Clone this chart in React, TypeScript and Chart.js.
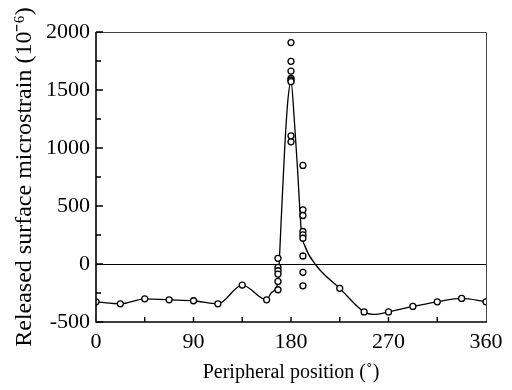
import React, { useEffect, useRef } from "react";
import { Chart, registerables } from "chart.js";

Chart.register(...registerables);

// Measured points: peripheral position (deg) and released microstrain
const pointDeg = [
  0, 22.5, 45, 67.5, 90, 112.5, 135, 157.5,
  168, 168, 168, 168, 168, 168,
  180, 180, 180, 180, 180, 180, 180, 180,
  191, 191, 191, 191, 191, 191, 191, 191, 191,
  225, 247.5, 270, 292.5, 315, 337.5, 360,
];
const pointStrain = [
  -326, -343, -300, -309, -317, -343, -182, -309,
  49, -29, -58, -87, -150, -222,
  1909, 1747, 1663, 1600, 1586, 1572, 1105, 1053,
  850, 467, 418, 280, 251, 222, 69, -72, -188,
  -210, -413, -413, -366, -326, -297, -326,
];

// Fitted curve
const curveDeg = [
  0, 22.5, 45, 67.5, 90, 112.5, 135, 157.5, 162, 168, 169, 171, 174, 177, 180,
  183, 186, 189.6, 192.7, 203.5, 225, 247.5, 256, 270, 292.5, 315, 337.5, 360,
];
const curveStrain = [
  -326, -343, -300, -309, -317, -343, -182, -309, -245, -158, -15, 389, 966, 1400, 1575,
  1250, 822, 274, 158, -15, -210, -413, -435, -413, -366, -326, -297, -326,
];

const xTicks = [0, 90, 180, 270, 360];
const yTicks = [-500, 0, 500, 1000, 1500, 2000];

const FONT = "'Liberation Serif', 'Times New Roman', serif";

const framePlugin = {
  id: "frame",
  afterDatasetsDraw(chart: any) {
    const { ctx, chartArea: a, scales } = chart;
    const xs = scales.x;
    const ys = scales.y;
    ctx.save();
    ctx.strokeStyle = "#444";
    ctx.lineWidth = 1;
    ctx.beginPath();
    ctx.moveTo(a.left, a.top + 0.5);
    ctx.lineTo(a.right + 0.5, a.top + 0.5);
    ctx.lineTo(a.right + 0.5, a.bottom);
    ctx.stroke();
    ctx.strokeStyle = "#000";
    ctx.lineWidth = 1.6;
    ctx.beginPath();
    ctx.moveTo(a.left, a.top);
    ctx.lineTo(a.left, a.bottom);
    ctx.lineTo(a.right + 1, a.bottom);
    ctx.stroke();
    ctx.lineWidth = 1.4;
    ctx.beginPath();
    for (let v = -500; v <= 2000; v += 250) {
      const y = ys.getPixelForValue(v);
      const len = v % 500 === 0 ? 7 : 5;
      ctx.moveTo(a.left, y);
      ctx.lineTo(a.left + len, y);
    }
    for (let d = 45; d < 360; d += 45) {
      const x = xs.getPixelForValue(d);
      ctx.moveTo(x, a.bottom);
      ctx.lineTo(x, a.bottom - 5);
    }
    ctx.stroke();
    ctx.restore();
  },
};

export default function App() {
  const ref = useRef<HTMLCanvasElement>(null);
  useEffect(() => {
    if (!ref.current) return;
    const chart = new Chart(ref.current, {
      type: "scatter",
      data: {
        datasets: [
          {
            data: pointDeg.map((d, i) => ({ x: d, y: pointStrain[i] })),
            pointRadius: 3,
            pointBackgroundColor: "#fff",
            pointBorderColor: "#000",
            pointBorderWidth: 1.3,
            showLine: false,
            order: 0,
          },
          {
            type: "line",
            data: curveDeg.map((d, i) => ({ x: d, y: curveStrain[i] })),
            borderColor: "#000",
            borderWidth: 1.3,
            pointRadius: 0,
            cubicInterpolationMode: "monotone",
            fill: false,
            order: 1,
          } as any,
        ],
      },
      options: {
        responsive: false,
        animation: false,
        layout: { padding: { top: 32, right: 26, left: 10, bottom: 5 } },
        plugins: { legend: { display: false }, tooltip: { enabled: false } },
        scales: {
          x: {
            type: "linear",
            min: 0,
            max: 360,
            afterBuildTicks: (s: any) => {
              s.ticks = xTicks.map((v) => ({ value: v }));
            },
            afterFit: (s: any) => {
              s.height = 63;
            },
            ticks: {
              color: "#000",
              font: { family: FONT, size: 22 },
              padding: 7,
              maxRotation: 0,
              callback: (v: any) => String(v),
            },
            grid: { drawOnChartArea: false, drawTicks: false },
            border: { display: false },
            title: {
              display: true,
              text: "Peripheral position (˚)",
              color: "#000",
              font: { family: FONT, size: 20 },
              padding: { top: 0, bottom: 0 },
            },
          },
          y: {
            type: "linear",
            min: -500,
            max: 2000,
            afterBuildTicks: (s: any) => {
              s.ticks = yTicks.map((v) => ({ value: v }));
            },
            afterFit: (s: any) => {
              s.width = 86;
            },
            ticks: {
              color: "#000",
              font: { family: FONT, size: 22 },
              padding: 6,
              callback: (v: any) => String(v),
            },
            grid: {
              drawTicks: false,
              color: (c: any) => (c.tick && c.tick.value === 0 ? "#000" : "rgba(0,0,0,0)"),
              lineWidth: 1,
            },
            border: { display: false },
            title: {
              display: true,
              text: "Released surface microstrain (10⁻⁶)",
              color: "#000",
              font: { family: FONT, size: 24 },
              padding: { top: 0, bottom: 0 },
            },
          },
        },
      },
      plugins: [framePlugin],
    });
    return () => chart.destroy();
  }, []);
  return (
    <canvas
      ref={ref}
      width={512}
      height={390}
      style={{ position: "fixed", left: 0, top: 0, width: 512, height: 390 }}
    />
  );
}
